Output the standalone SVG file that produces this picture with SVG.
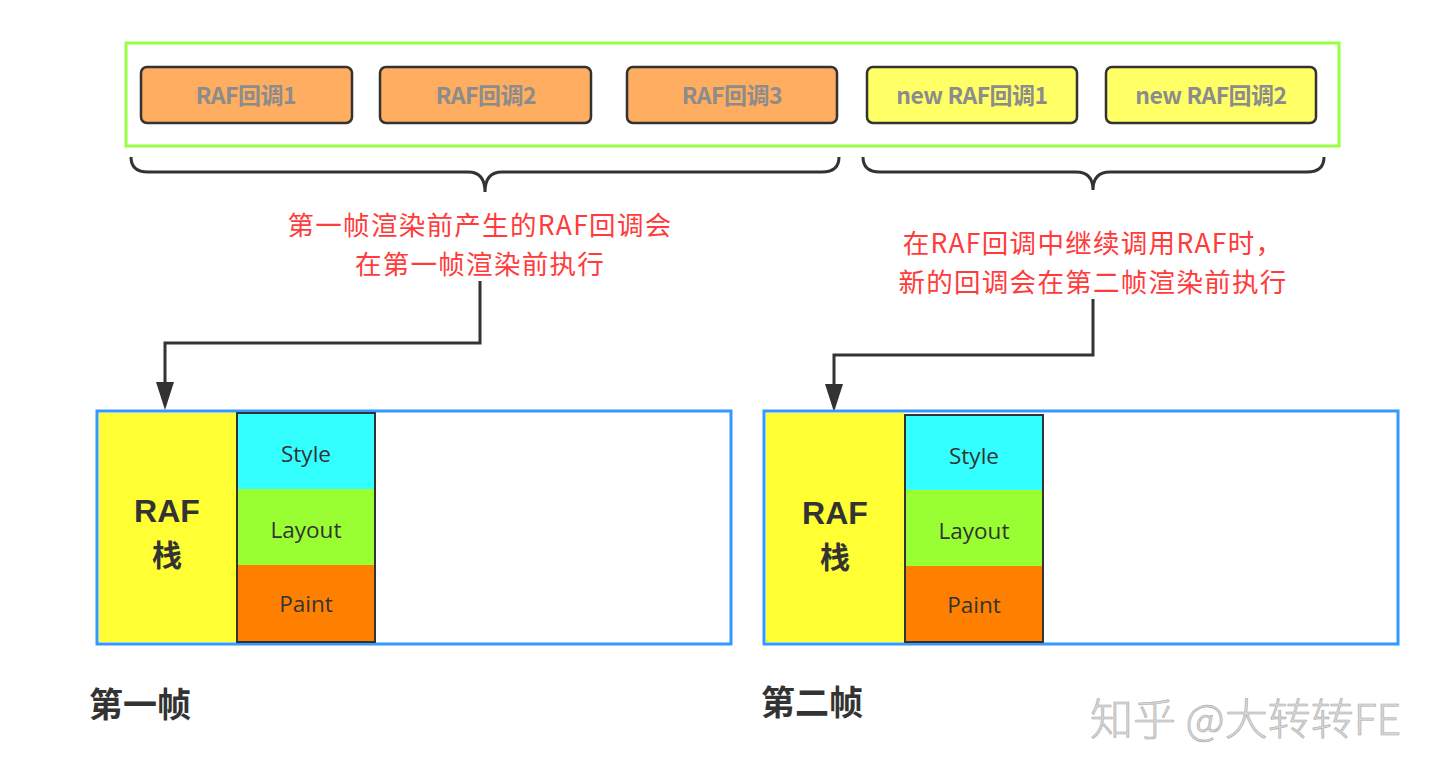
<svg xmlns="http://www.w3.org/2000/svg" width="1440" height="776" viewBox="0 0 1440 776">
<style>
.cb{stroke:#333;stroke-width:2.5}
.orange{fill:#FFAD60}
.yel{fill:#FFFF66}
.btxt{font-family:"Noto Sans CJK SC",sans-serif;font-weight:bold;font-size:23px;fill:#8C8C8C;text-anchor:middle;letter-spacing:-0.5px}
.red{font-family:"Noto Sans CJK SC",sans-serif;font-size:26.5px;fill:#FF3B3B;text-anchor:middle;letter-spacing:1.3px}
.brace{fill:none;stroke:#333;stroke-width:3}
.conn{fill:none;stroke:#333;stroke-width:3}
.frame{fill:#fff;stroke:#3399FF;stroke-width:3}
.stack{fill:#FFFF33}
.sl{font-family:"Open Sans","Noto Sans CJK SC",sans-serif;font-size:22.5px;fill:#333;text-anchor:middle}
.raf{font-family:"Liberation Sans",sans-serif;font-weight:bold;font-size:32px;fill:#333;text-anchor:middle}
.zhan{font-family:"Noto Sans CJK SC",sans-serif;font-weight:bold;font-size:30px;fill:#333;text-anchor:middle}
.lbl{font-family:"Noto Sans CJK SC",sans-serif;font-weight:bold;font-size:34px;fill:#333}
</style>
<rect width="1440" height="776" fill="#fff"/>
<rect id="container" x="126" y="43" width="1213" height="103" fill="#fff" stroke="#99FF44" stroke-width="3"/>
<g id="cb1"><rect class="cb orange" x="141" y="67" width="211" height="56" rx="6"/><text class="btxt" x="246" y="104">RAF回调1</text></g>
<g id="cb2"><rect class="cb orange" x="380" y="67" width="211" height="56" rx="6"/><text class="btxt" x="486" y="104">RAF回调2</text></g>
<g id="cb3"><rect class="cb orange" x="627" y="67" width="210" height="56" rx="6"/><text class="btxt" x="732" y="104">RAF回调3</text></g>
<g id="ncb1"><rect class="cb yel" x="867" y="67" width="210" height="56" rx="6"/><text class="btxt" x="972" y="104">new RAF回调1</text></g>
<g id="ncb2"><rect class="cb yel" x="1106" y="67" width="210" height="56" rx="6"/><text class="btxt" x="1211" y="104">new RAF回调2</text></g>
<g id="braces">
<path class="brace" d="M131,157 Q131,172 148,172 L468,172 Q485,172 485,192 Q485,172 502,172 L822,172 Q839,172 839,157"/>
<path class="brace" d="M863,157 Q863,172 880,172 L1076,172 Q1093,172 1093,190 Q1093,172 1110,172 L1307,172 Q1324,172 1324,157"/>
</g>
<g id="note1"><text class="red" x="480" y="235">第一帧渲染前产生的RAF回调会</text><text class="red" x="480" y="274">在第一帧渲染前执行</text></g>
<g id="note2"><text class="red" x="1093" y="253">在RAF回调中继续调用RAF时，</text><text class="red" x="1093" y="292">新的回调会在第二帧渲染前执行</text></g>
<g id="connectors">
<path class="conn" d="M480,281 L480,343 L165,343 L165,384"/>
<path d="M156,382 L174,382 L165,410 Z" fill="#333"/>
<path class="conn" d="M1093,299 L1093,355 L834,355 L834,386"/>
<path d="M825,384 L843,384 L834,412 Z" fill="#333"/>
</g>
<g id="frame1">
<rect class="frame" x="97" y="411" width="634" height="233"/>
<rect class="stack" x="99" y="413" width="137" height="229"/>
<rect x="237" y="413" width="138" height="76" fill="#33FFFF"/>
<rect x="237" y="489" width="138" height="76" fill="#99FF33"/>
<rect x="237" y="565" width="138" height="77" fill="#FF8000"/>
<rect x="237" y="413" width="138" height="229" fill="none" stroke="#333" stroke-width="2"/>
<text class="sl" x="306" y="462">Style</text>
<text class="sl" x="306" y="538">Layout</text>
<text class="sl" x="306" y="612">Paint</text>
<text class="raf" x="167" y="522">RAF</text>
<text class="zhan" x="167" y="566">栈</text>
</g>
<g id="frame2">
<rect class="frame" x="764" y="411" width="634" height="233"/>
<rect class="stack" x="766" y="413" width="138" height="229"/>
<rect x="905" y="415" width="138" height="75" fill="#33FFFF"/>
<rect x="905" y="490" width="138" height="76" fill="#99FF33"/>
<rect x="905" y="566" width="138" height="76" fill="#FF8000"/>
<rect x="905" y="415" width="138" height="227" fill="none" stroke="#333" stroke-width="2"/>
<text class="sl" x="974" y="464">Style</text>
<text class="sl" x="974" y="539">Layout</text>
<text class="sl" x="974" y="613">Paint</text>
<text class="raf" x="835" y="524">RAF</text>
<text class="zhan" x="835" y="568">栈</text>
</g>
<text class="lbl" x="89" y="717">第一帧</text>
<text class="lbl" x="761" y="715">第二帧</text>
<text x="1090" y="735" font-family="Noto Sans CJK SC,sans-serif" font-size="43" font-weight="300" fill="#D8D8D8" stroke="#AAAAAA" stroke-width="0.6">知乎 @大转转FE</text>
</svg>
